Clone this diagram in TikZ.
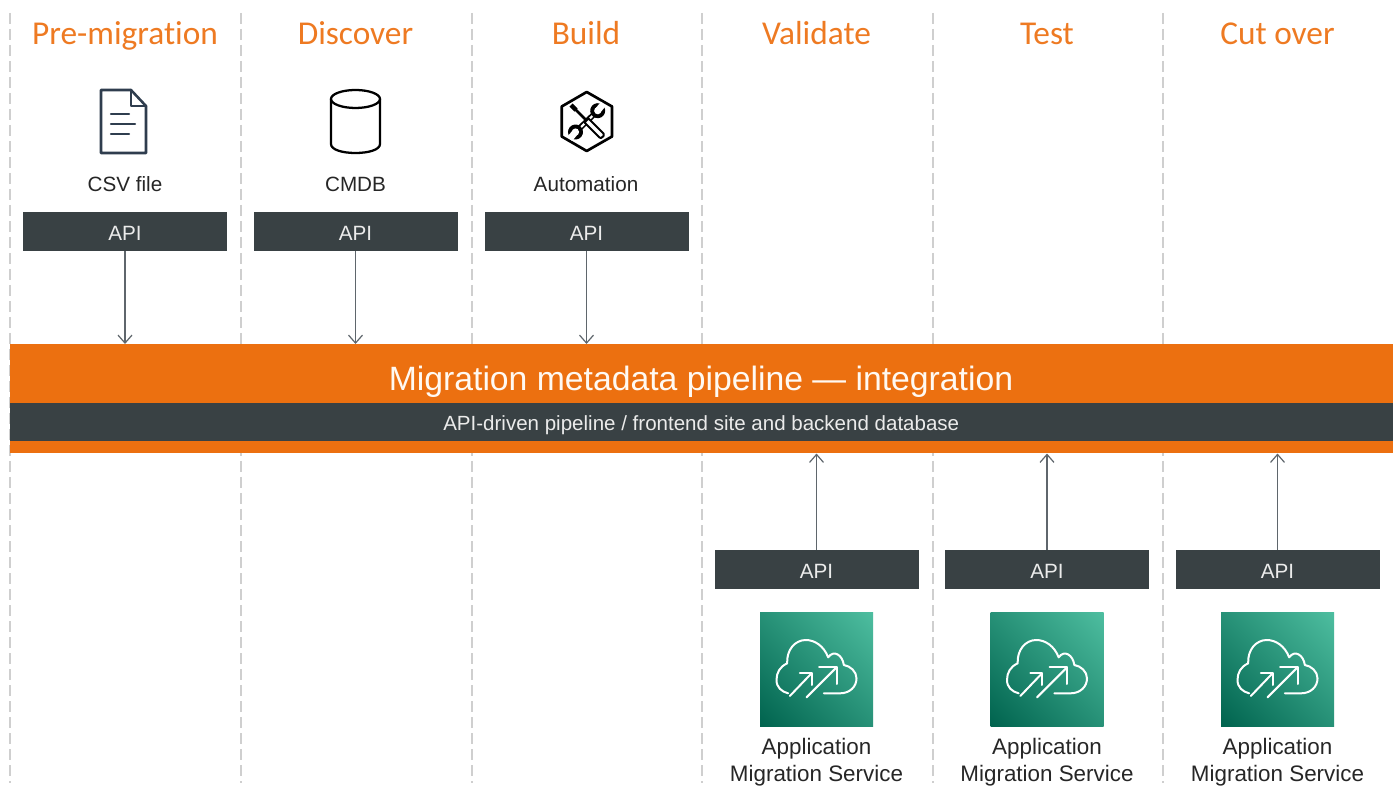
\documentclass[tikz,border=0pt]{standalone}
\usepackage{fontspec}
\setmainfont{Liberation Sans}
\newfontfamily\headfont[Ligatures=NoCommon]{Carlito}
\usetikzlibrary{arrows.meta,calc,shadings}
\definecolor{orangeband}{HTML}{EC7010}
\definecolor{headorange}{HTML}{EE7A22}
\definecolor{darkbar}{HTML}{394144}
\definecolor{dashgrey}{HTML}{CFCFCF}
\definecolor{arrowgrey}{HTML}{5F666C}
\definecolor{labeltext}{HTML}{262626}
\definecolor{docblue}{HTML}{2F3D4E}
\definecolor{amsdark}{RGB}{0,99,78}
\definecolor{amslight}{RGB}{78,190,160}
\definecolor{amsmid}{RGB}{39,145,119}
\tikzset{
  x=0.75pt,y=-0.75pt,
  headlabel/.style={font=\headfont\fontsize{25}{28}\selectfont,text=headorange,inner sep=0pt,anchor=base},
  apibox/.style={fill=darkbar,draw=none,minimum width=153pt,minimum height=29.25pt,inner sep=0pt,text=white!92!black,font=\fontsize{15.5}{18}\selectfont,text height=12.8pt,text depth=0pt},
  sublabel/.style={font=\fontsize{15.5}{18}\selectfont,text=labeltext,inner sep=0pt,anchor=base},
  conn/.style={draw=arrowgrey,line width=0.9pt,-{Straight Barb[length=6pt,width=10.5pt,line width=0.9pt]}},
  divider/.style={draw=dashgrey,line width=0.8pt,dash pattern=on 8pt off 4pt},
}
\newcommand{\amsicon}[2]{%
  \begin{scope}[shift={(#1,#2)}]
    \shade[lower left=amsdark,upper right=amslight,upper left=amsmid,lower right=amsmid]
       (-56.5,-57) rectangle (56.5,57);
    \begin{scope}[x=0.25pt,y=-0.25pt,draw=white,line width=1.5pt,line cap=round,line join=round,shift={(-350,-387)}]
      \draw (372,460) -- (420,460) .. controls (450,460) and (470,440) .. (470,415)
        .. controls (470,395) and (452,378) .. (432,375)
        .. controls (428,345) and (402,328) .. (385,352)
        .. controls (372,318) and (345,300) .. (318,300)
        .. controls (285,300) and (260,330) .. (262,370)
        .. controls (240,380) and (230,398) .. (230,420)
        .. controls (230,442) and (245,455) .. (265,460);
      \draw (270,468) -- (335,400);
      \draw (300,400) -- (335,400) -- (335,435);
      \draw (320,472) -- (410,382);
      \draw (358,382) -- (410,382) -- (410,432);
    \end{scope}
  \end{scope}}
\newcommand{\wrenchhead}[3]{% x, y, rotation of the notch
  \begin{scope}[shift={(#1,#2)},rotate=#3]
    \fill[black] (0,0) circle [radius=7.5];
    \fill[white] (0,0) circle [radius=3.6];
    \fill[white] (0,-3.2) rectangle (9,3.2);
  \end{scope}}
\begin{document}
\begin{tikzpicture}
\useasboundingbox (0,0) rectangle (1395,787);
\fill[white] (0,0) rectangle (1395,787);
% dividers
\foreach \xx in {10,241,472,702,933,1163}
  \draw[divider] (\xx,13) -- (\xx,783);
% band
\node[fill=orangeband,minimum width=1037.25pt,minimum height=81.75pt,inner sep=0pt,anchor=north west] (band) at (9.5,344) {};
\node[fill=darkbar,minimum width=1037.25pt,minimum height=28.5pt,inner sep=0pt,anchor=north west,text=white!92!black,font=\fontsize{15.4}{18}\selectfont,text height=12pt,text depth=0pt] (bar) at (9.5,403) {API-driven pipeline / frontend site and backend database};
\node[inner sep=0pt,anchor=base,text=white!95!orange,font=\fontsize{25.3}{28}\selectfont] (bandtitle) at (701,391) {Migration metadata pipeline — integration};
% headings
\node[headlabel] (h1) at (125,44.5) {Pre-migration};
\node[headlabel] (h2) at (355.5,44.5) {Discover};
\node[headlabel] (h3) at (586,44.5) {Build};
\node[headlabel] (h4) at (816.5,44.5) {Validate};
\node[headlabel] (h5) at (1047,44.5) {Test};
\node[headlabel] (h6) at (1277.5,44.5) {Cut over};
% document icon
\begin{scope}[draw=docblue,line width=1.9pt,line join=round,line cap=round]
  \draw (101,90) -- (131,90) -- (146,106) -- (146,153) -- (101,153) -- cycle;
  \draw (131,90) -- (131,106) -- (146,106);
  \draw[line width=1.6pt] (111,114) -- (129,114);
  \draw[line width=1.6pt] (111,124) -- (135,124);
  \draw[line width=1.6pt] (111,134) -- (129,134);
\end{scope}
% cylinder icon
\begin{scope}[draw=black,line width=1.7pt]
  \draw (355.5,99) ellipse [x radius=24.5,y radius=9];
  \draw (331,99) -- (331,144) .. controls (331,150) and (343,153) .. (355.5,153) .. controls (368,153) and (380,150) .. (380,144) -- (380,99);
\end{scope}
% automation icon
\begin{scope}[draw=black,line join=round]
  \draw[line width=2pt] (586.7,92) -- (612,106.5) -- (612,136.5) -- (586.7,151) -- (561.7,136.5) -- (561.7,106.5) -- cycle;
  % wrench shaft and heads
  \draw[black,line width=4.2pt] (596.7,111.7) -- (576,131.7);
  \draw[white,line width=1.6pt] (593,115.5) -- (580,128);
  \wrenchhead{597.7}{110.7}{50}
  \wrenchhead{575.5}{132}{230}
  % screwdriver
  \draw[black,line width=1.9pt] (572,106) -- (586,120);
  \draw[black,line width=3.4pt] (571,105) -- (576,110);
  \draw[fill=white,line width=1.5pt] (584.5,122.5) -- (588.5,118.5) -- (603.5,133.5) .. controls (605,135) and (603,137.5) .. (601,138) -- (599.5,137.5) -- cycle;
\end{scope}
% labels
\node[sublabel] (csv) at (125,192) {CSV file};
\node[sublabel] (cmdb) at (355.5,192) {CMDB};
\node[sublabel] (auto) at (586,192) {Automation};
% top API
\node[apibox] (a1) at (125,231.5) {API};
\node[apibox] (a2) at (355.5,231.5) {API};
\node[apibox] (a3) at (586.5,231.5) {API};
\draw[conn] (a1.south) -- (a1.south |- band.north);
\draw[conn] (a2.south) -- (a2.south |- band.north);
\draw[conn] (a3.south) -- (a3.south |- band.north);
% bottom API
\node[apibox] (b1) at (816.5,569.5) {API};
\node[apibox] (b2) at (1047,569.5) {API};
\node[apibox] (b3) at (1277.5,569.5) {API};
\draw[conn] (b1.north) -- (b1.north |- band.south);
\draw[conn] (b2.north) -- (b2.north |- band.south);
\draw[conn] (b3.north) -- (b3.north |- band.south);
% AMS icons
\amsicon{816.5}{669}
\amsicon{1047}{669}
\amsicon{1277.5}{669}
\foreach \xx/\nm in {816.5/s1,1047/s2,1277.5/s3}
  \node[align=center,font=\fontsize{16.8}{20.25}\selectfont,text=labeltext,inner sep=0pt] (\nm) at (\xx,762.5) {Application\\Migration Service};
\end{tikzpicture}
\end{document}
